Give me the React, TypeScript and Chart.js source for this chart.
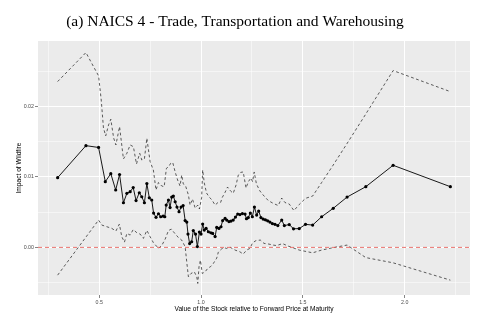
import React, { useEffect, useRef } from "react";
import { Chart, registerables } from "chart.js";

Chart.register(...registerables);

// ---- data ----
const mainX = [0.296,0.435,0.497,0.530,0.557,0.581,0.600,0.619,0.636,0.652,0.667,0.681,0.697,0.709,0.722,0.734,0.746,0.758,0.767,0.779,0.791,0.802,0.814,0.822,0.829,0.840,0.848,0.856,0.864,0.873,0.882,0.892,0.902,0.912,0.922,0.930,0.936,0.944,0.954,0.962,0.973,0.982,0.992,1.000,1.008,1.016,1.025,1.036,1.048,1.057,1.069,1.077,1.088,1.098,1.106,1.118,1.126,1.137,1.147,1.158,1.169,1.180,1.191,1.203,1.216,1.223,1.232,1.242,1.252,1.262,1.273,1.283,1.294,1.305,1.316,1.327,1.338,1.350,1.363,1.377,1.396,1.409,1.433,1.454,1.482,1.513,1.548,1.592,1.649,1.717,1.809,1.943,2.224];
const mainY = [0.00990,0.01445,0.01419,0.00933,0.01047,0.00815,0.01035,0.00634,0.00768,0.00791,0.00850,0.00665,0.00776,0.00719,0.00634,0.00907,0.00704,0.00673,0.00488,0.00427,0.00478,0.00435,0.00445,0.00435,0.00601,0.00673,0.00566,0.00715,0.00729,0.00648,0.00573,0.00506,0.00573,0.00594,0.00381,0.00360,0.00189,0.00054,0.00080,0.00239,0.00189,0.00011,0.00218,0.00189,0.00331,0.00246,0.00270,0.00222,0.00208,0.00199,0.00154,0.00284,0.00270,0.00293,0.00381,0.00412,0.00388,0.00367,0.00374,0.00388,0.00431,0.00473,0.00466,0.00481,0.00473,0.00407,0.00424,0.00488,0.00435,0.00573,0.00459,0.00516,0.00424,0.00402,0.00392,0.00378,0.00360,0.00338,0.00327,0.00310,0.00388,0.00310,0.00324,0.00264,0.00267,0.00327,0.00317,0.00435,0.00555,0.00715,0.00862,0.01166,0.00862];

const upperX = [0.296,0.435,0.472,0.497,0.510,0.521,0.532,0.546,0.557,0.571,0.582,0.600,0.619,0.636,0.652,0.668,0.683,0.699,0.709,0.722,0.734,0.742,0.750,0.766,0.779,0.791,0.807,0.819,0.830,0.841,0.851,0.861,0.873,0.885,0.897,0.905,0.913,0.925,0.938,0.946,0.958,0.971,0.984,0.992,1.003,1.008,1.016,1.027,1.041,1.052,1.069,1.083,1.096,1.104,1.118,1.130,1.145,1.158,1.172,1.183,1.195,1.207,1.221,1.232,1.245,1.253,1.261,1.272,1.289,1.305,1.330,1.354,1.379,1.396,1.412,1.433,1.456,1.482,1.513,1.548,1.592,1.649,1.717,1.809,1.943,2.224];
const upperY = [0.02355,0.02767,0.02568,0.02436,0.02094,0.01696,0.01583,0.01739,0.01820,0.01554,0.01455,0.01715,0.01256,0.01337,0.01455,0.01430,0.01184,0.01337,0.01241,0.01256,0.01550,0.01384,0.01217,0.01099,0.00815,0.00921,0.00872,0.00862,0.01123,0.01146,0.01194,0.01206,0.01071,0.00957,0.00872,0.01028,0.00900,0.00865,0.00744,0.00601,0.00687,0.00559,0.00601,0.00545,0.00708,0.01099,0.00914,0.00772,0.00711,0.00680,0.00601,0.00637,0.00637,0.00708,0.00782,0.00857,0.00801,0.00768,0.00886,0.01028,0.01066,0.01071,0.00843,0.00933,0.00985,0.00933,0.01071,0.00900,0.00801,0.00744,0.00665,0.00626,0.00594,0.00701,0.00637,0.00616,0.00523,0.00609,0.00697,0.00729,0.00921,0.01170,0.01476,0.01895,0.02511,0.02212];

const lowerX = [0.296,0.497,0.513,0.538,0.562,0.582,0.599,0.611,0.624,0.636,0.652,0.667,0.685,0.701,0.717,0.734,0.750,0.766,0.791,0.807,0.824,0.840,0.854,0.870,0.889,0.905,0.922,0.931,0.938,0.951,0.967,0.979,0.984,0.990,0.997,1.006,1.020,1.034,1.047,1.060,1.077,1.085,1.100,1.113,1.126,1.142,1.167,1.191,1.207,1.224,1.240,1.253,1.270,1.291,1.309,1.333,1.354,1.371,1.400,1.428,1.456,1.482,1.548,1.592,1.649,1.717,1.809,1.943,2.224];
const lowerY = [-0.00394,0.00388,0.00317,0.00293,0.00270,0.00232,0.00331,0.00151,0.00075,0.00199,0.00175,0.00253,0.00208,0.00189,0.00128,0.00242,0.00151,0.00068,-0.00014,0.00026,0.00118,0.00239,0.00260,0.00203,0.00139,0.00104,0.00009,-0.00237,-0.00418,-0.00370,-0.00347,-0.00418,-0.00512,-0.00276,-0.00181,-0.00370,-0.00347,-0.00294,-0.00273,-0.00230,-0.00152,-0.00067,-0.00024,-0.00003,-0.00014,0.00004,-0.00038,-0.00063,-0.00095,-0.00038,-0.00014,0.00065,0.00097,0.00104,0.00057,0.00047,0.00033,0.00026,0.00054,0.00018,-0.00010,-0.00038,-0.00077,-0.00038,-0.00003,0.00033,-0.00145,-0.00219,-0.00465];

const zeroLineValue = 0;
const xMajorTicks = [0.5, 1.0, 1.5, 2.0];
const xMinorTicks = [0.25, 0.75, 1.25, 1.75, 2.25];
const yMajorTicks = [0, 0.01, 0.02];
const yMinorTicks = [-0.005, 0.005, 0.015, 0.025];
const xRange = [0.1996, 2.3204];
const yRange = [-0.00676, 0.02931];

const titleText = "(a) NAICS 4 - Trade, Transportation and Warehousing";
const xTitle = "Value of the Stock relative to Forward Price at Maturity";
const yTitle = "Impact of Wildfire";

const isIn = (list: number[], v: number) => list.some((t) => Math.abs(t - v) < 1e-9);
const toPoints = (xs: number[], ys: number[]) => xs.map((x, i) => ({ x, y: ys[i] }));

const panelBg = {
  id: "panelBg",
  beforeDraw(chart: any) {
    const { ctx, chartArea: a } = chart;
    ctx.save();
    ctx.fillStyle = "#EBEBEB";
    ctx.fillRect(a.left, a.top, a.right - a.left, a.bottom - a.top);
    ctx.restore();
  },
};

const zeroLine = {
  id: "zeroLine",
  afterDatasetsDraw(chart: any) {
    const { ctx, chartArea: a, scales } = chart;
    const y = scales.y.getPixelForValue(zeroLineValue);
    ctx.save();
    ctx.strokeStyle = "#E4514B";
    ctx.lineWidth = 0.8;
    ctx.setLineDash([4, 3]);
    ctx.beginPath();
    ctx.moveTo(a.left, y);
    ctx.lineTo(a.right, y);
    ctx.stroke();
    ctx.restore();
  },
};

export default function App() {
  const ref = useRef<HTMLCanvasElement | null>(null);

  useEffect(() => {
    if (!ref.current) return;
    const tickFont = { family: "'Liberation Sans', Arial, sans-serif", size: 5.3 };
    const titleFont = { family: "'Liberation Sans', Arial, sans-serif", size: 6.6 };
    const chart = new Chart(ref.current, {
      type: "line",
      data: {
        datasets: [
          {
            data: toPoints(upperX, upperY),
            borderColor: "#1a1a1a",
            borderWidth: 0.7,
            borderDash: [2.8, 2.5],
            pointRadius: 0,
            fill: false,
            tension: 0,
          },
          {
            data: toPoints(lowerX, lowerY),
            borderColor: "#1a1a1a",
            borderWidth: 0.7,
            borderDash: [2.8, 2.5],
            pointRadius: 0,
            fill: false,
            tension: 0,
          },
          {
            data: toPoints(mainX, mainY),
            borderColor: "#000",
            borderWidth: 0.9,
            pointRadius: 1.6,
            pointBackgroundColor: "#000",
            pointBorderWidth: 0,
            fill: false,
            tension: 0,
          },
        ],
      },
      options: {
        responsive: false,
        animation: false,
        events: [],
        layout: { padding: { left: 0, right: 13, top: 0, bottom: 0 } },
        plugins: {
          legend: { display: false },
          tooltip: { enabled: false },
          title: {
            display: true,
            text: titleText,
            color: "#000",
            font: { family: "'Liberation Serif', 'Times New Roman', serif", size: 15.5, weight: "normal", lineHeight: 1.2 },
            padding: { top: 13, bottom: 9.4 },
          },
        },
        scales: {
          x: {
            type: "linear",
            min: xRange[0],
            max: xRange[1],
            afterBuildTicks: (s: any) => {
              s.ticks = [...xMajorTicks, ...xMinorTicks].sort((a, b) => a - b).map((v) => ({ value: v }));
            },
            afterFit: (s: any) => {
              s.height = 34;
            },
            border: { display: false },
            grid: {
              color: "#FFFFFF",
              lineWidth: (c: any) => (isIn(xMajorTicks, c.tick.value) ? 1 : 0.5),
              tickLength: 3,
              tickWidth: 0.6,
              tickColor: (c: any) => (isIn(xMajorTicks, c.tick.value) ? "#333333" : "rgba(0,0,0,0)"),
            },
            ticks: {
              autoSkip: false,
              maxRotation: 0,
              padding: 1,
              color: "#4D4D4D",
              font: tickFont,
              callback: (v: any) => (isIn(xMajorTicks, Number(v)) ? Number(v).toFixed(1) : ""),
            },
            title: {
              display: true,
              text: xTitle,
              color: "#000",
              font: titleFont,
              padding: { top: 0, bottom: 16 },
            },
          },
          y: {
            type: "linear",
            min: yRange[0],
            max: yRange[1],
            afterBuildTicks: (s: any) => {
              s.ticks = [...yMajorTicks, ...yMinorTicks].sort((a, b) => a - b).map((v) => ({ value: v }));
            },
            afterFit: (s: any) => {
              s.width = 38;
            },
            border: { display: false },
            grid: {
              color: "#FFFFFF",
              lineWidth: (c: any) => (isIn(yMajorTicks, c.tick.value) ? 1 : 0.5),
              tickLength: 3,
              tickWidth: 0.6,
              tickColor: (c: any) => (isIn(yMajorTicks, c.tick.value) ? "#333333" : "rgba(0,0,0,0)"),
            },
            ticks: {
              autoSkip: false,
              padding: 1,
              color: "#4D4D4D",
              font: tickFont,
              callback: (v: any) => (isIn(yMajorTicks, Number(v)) ? Number(v).toFixed(2) : ""),
            },
            title: {
              display: true,
              text: yTitle,
              color: "#000",
              font: titleFont,
              padding: { top: 15.5, bottom: 0 },
            },
          },
        },
      },
      plugins: [panelBg, zeroLine],
    } as any);
    return () => chart.destroy();
  }, []);

  return (
    <div style={{ position: "absolute", left: 0, top: 0, width: 483, height: 329, background: "#fff" }}>
      <canvas ref={ref} width={483} height={329} style={{ display: "block", width: 483, height: 329 }} />
    </div>
  );
}
